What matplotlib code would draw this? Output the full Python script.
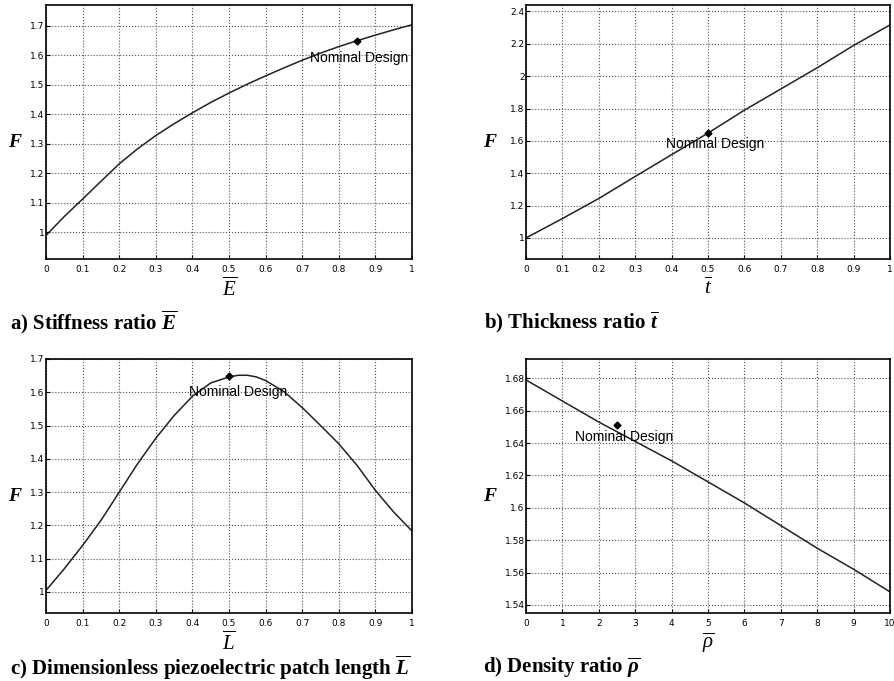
import numpy as np
import matplotlib.pyplot as plt
from matplotlib.ticker import FuncFormatter

plt.rcParams['mathtext.fontset'] = 'custom'
plt.rcParams['mathtext.rm'] = 'Liberation Serif'
plt.rcParams['mathtext.it'] = 'Liberation Serif:italic'
plt.rcParams['mathtext.bf'] = 'Liberation Serif:bold:italic'

# a) stiffness ratio
E_x = [0, 0.05, 0.1, 0.15, 0.2, 0.25, 0.3, 0.35, 0.4, 0.45, 0.5,
       0.55, 0.6, 0.65, 0.7, 0.75, 0.8, 0.85, 0.9, 0.95, 1.0]
E_F = [0.99, 1.054, 1.113, 1.173, 1.232, 1.283, 1.328, 1.368, 1.405,
       1.44, 1.472, 1.502, 1.53, 1.557, 1.583, 1.607, 1.629, 1.649, 1.668, 1.686, 1.703]

# b) thickness ratio
t_x = [0, 0.1, 0.2, 0.3, 0.4, 0.5, 0.6, 0.7, 0.8, 0.9, 1.0]
t_F = [1.0, 1.12, 1.244, 1.38, 1.515, 1.648, 1.79, 1.921, 2.052, 2.19, 2.317]

# c) patch length
L_x = [0, 0.05, 0.1, 0.15, 0.2, 0.25, 0.3, 0.35, 0.4, 0.45, 0.5, 0.525, 0.55, 0.575,
       0.6, 0.65, 0.7, 0.75, 0.8, 0.85, 0.9, 0.95, 1.0]
L_F = [1.005, 1.07, 1.14, 1.215, 1.3, 1.385, 1.462, 1.53, 1.588, 1.628, 1.646, 1.651,
       1.651, 1.646, 1.635, 1.602, 1.554, 1.5, 1.445, 1.38, 1.305, 1.24, 1.183]

# d) density ratio
rho_x = [0, 1, 2, 3, 4, 5, 6, 7, 8, 9, 10]
rho_F = [1.679, 1.666, 1.653, 1.641, 1.629, 1.616, 1.603, 1.589, 1.575, 1.562, 1.548]

panels = [
    dict(x=E_x, y=E_F, nom=(0.85, 1.649), txt=(0.72, 1.592), xlim=(0, 1), ylim=(0.91, 1.77),
         xt=np.arange(0, 1.01, 0.1), yt=np.arange(1, 1.71, 0.1),
         xl=r'$\overline{E}$', cap=r'a) Stiffness ratio $\mathbf{\overline{E}}$',
         pos=[0.0515, 0.6197, 0.4094, 0.373], cap_xy=(-0.098, -0.248), f_x=-0.085),
    dict(x=t_x, y=t_F, nom=(0.5, 1.648), txt=(0.385, 1.582), xlim=(0, 1), ylim=(0.87, 2.44),
         xt=np.arange(0, 1.01, 0.1), yt=np.arange(1, 2.41, 0.2),
         xl=r'$\overline{t}$', cap=r'b) Thickness ratio $\mathbf{\overline{t}}$',
         pos=[0.5884, 0.6197, 0.4072, 0.373], cap_xy=(-0.115, -0.248), f_x=-0.10),
    dict(x=L_x, y=L_F, nom=(0.5, 1.648), txt=(0.39, 1.602), xlim=(0, 1), ylim=(0.937, 1.70),
         xt=np.arange(0, 1.01, 0.1), yt=np.arange(1, 1.71, 0.1),
         xl=r'$\overline{L}$',
         cap=r'c) Dimensionless piezoelectric patch length $\mathbf{\overline{L}}$',
         pos=[0.0515, 0.0999, 0.4094, 0.373], cap_xy=(-0.098, -0.217), f_x=-0.085),
    dict(x=rho_x, y=rho_F, nom=(2.5, 1.651), txt=(1.35, 1.6437), xlim=(0, 10), ylim=(1.535, 1.692),
         xt=np.arange(0, 11, 1), yt=np.arange(1.54, 1.681, 0.02),
         xl=r'$\overline{\rho}$', cap=r'd) Density ratio $\mathbf{\overline{\rho}}$',
         pos=[0.5884, 0.0999, 0.4072, 0.373], cap_xy=(-0.118, -0.217), f_x=-0.10),
]

fmt = FuncFormatter(lambda v, p: '%g' % round(v, 4))

fig = plt.figure(figsize=(8.94, 6.81), dpi=100)

for p in panels:
    ax = fig.add_axes(p['pos'])
    ax.plot(p['x'], p['y'], color='#222222', lw=1.1)
    ax.plot(*p['nom'], marker='D', color='black', ms=3.5)
    ax.text(p['txt'][0], p['txt'][1], 'Nominal Design', fontsize=10, va='center',
            family='Liberation Sans', clip_on=True)
    ax.set_xlim(p['xlim'])
    ax.set_ylim(p['ylim'])
    ax.set_xticks(p['xt'])
    ax.set_yticks(p['yt'])
    ax.xaxis.set_major_formatter(fmt)
    ax.yaxis.set_major_formatter(fmt)
    ax.tick_params(direction='in', labelsize=6.5, length=3, width=0.8)
    ax.tick_params(axis='x', pad=4)
    ax.tick_params(axis='y', pad=1)
    ax.grid(True, ls=':', color='#555555', lw=0.8)
    for s in ax.spines.values():
        s.set_linewidth(1.2)
    ax.set_xlabel(p['xl'], fontsize=15, labelpad=2)
    ax.set_ylabel('F', fontsize=14, rotation=0, family='Liberation Serif',
                  fontweight='bold', style='italic', va='center', ha='center')
    ax.yaxis.set_label_coords(p['f_x'], 0.46)
    ax.text(p['cap_xy'][0], p['cap_xy'][1], p['cap'], transform=ax.transAxes, fontsize=15,
            family='Liberation Serif', fontweight='bold', va='center')

fig.savefig('out.png', dpi=100)
